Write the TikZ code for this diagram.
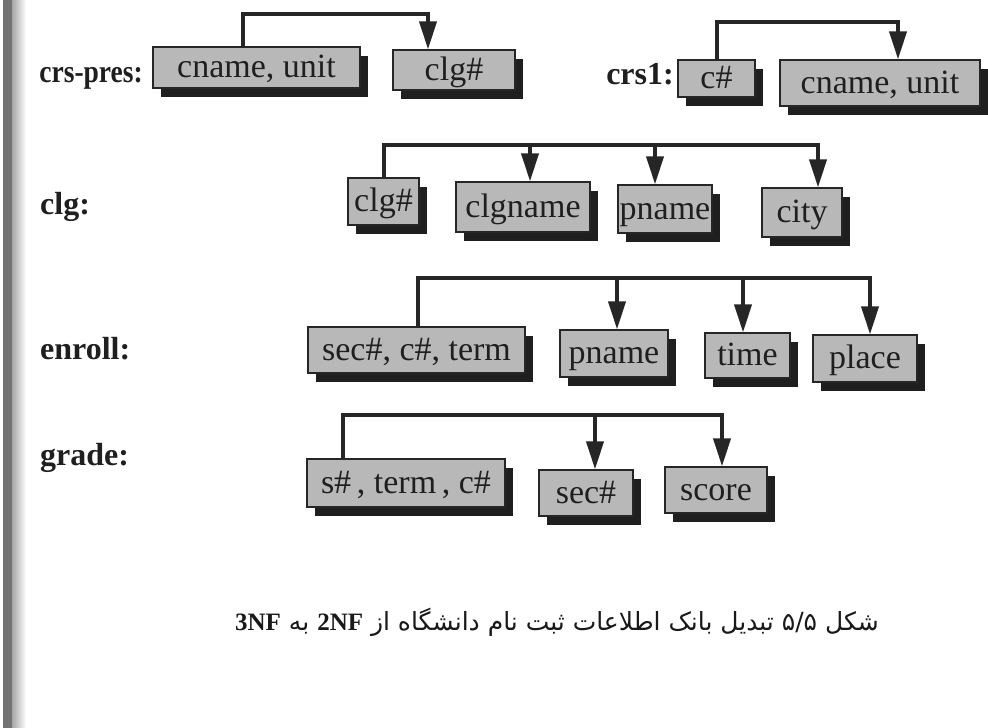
\documentclass[tikz,border=0pt]{standalone}
\usepackage{fontspec}
\usepackage{graphicx}
\setmainfont{Liberation Serif}
\newfontfamily\arabicfont[Script=Arabic]{DejaVu Sans}
\TeXXeTstate=1
\usetikzlibrary{shadows,arrows.meta}
\begin{document}
\begin{tikzpicture}[x=1pt,y=-1pt,
  box/.style={draw=black!85, line width=1.3pt, fill=black!28, inner sep=0pt,
    font=\fontsize{34}{34}\selectfont, text=black!88,
    text height=25pt, text depth=5pt,
    drop shadow={shadow xshift=8pt, shadow yshift=-9pt, fill=black!88, opacity=1, draw=none}},
  lbl/.style={font=\fontsize{32}{32}\selectfont\bfseries, text=black!88, inner sep=0pt},
  bus/.style={draw=black!85, line width=4pt, line join=miter},
  arr/.style={bus, -{Triangle[width=17pt,length=28pt]}},
]
\useasboundingbox (0,0) rectangle (988,728);
\fill[white] (0,0) rectangle (988,728);
% binding strip
\fill[black!55] (3,0) rectangle (12,728);
\shade[left color=black!35, right color=white] (12,0) rectangle (26,728);

% ---- labels
\node[lbl, anchor=base east] (Lcp) at (143,82) {\scalebox{0.86}[1]{crs-pres:}};
\node[lbl, anchor=base east] (Lc1) at (674,84) {crs1:};
\node[lbl, anchor=base west] (Lclg) at (40,214) {clg:};
\node[lbl, anchor=base west] (Len) at (40,359) {enroll:};
\node[lbl, anchor=base west] (Lgr) at (40,465) {grade:};

% ---- row 1
\node[box, minimum width=207pt, minimum height=41pt] (cu1) at (256.5,67.5) {cname, unit};
\node[box, minimum width=122pt, minimum height=40pt] (clgA) at (454,70) {clg\#};
\node[box, minimum width=77pt, minimum height=37pt] (cA) at (716.5,78.5) {c\#};
\node[box, minimum width=200pt, minimum height=46pt] (cu2) at (880,83) {cname, unit};

% ---- row 2
\node[box, minimum width=71pt, minimum height=47pt] (clgB) at (383.5,201.5) {clg\#};
\node[box, minimum width=134pt, minimum height=50pt] (clgn) at (523,207) {clgname};
\node[box, minimum width=94pt, minimum height=48pt] (pn1) at (665,209) {pname};
\node[box, minimum width=80pt, minimum height=49pt] (city) at (802,212.5) {city};

% ---- row 3
\node[box, minimum width=217pt, minimum height=46pt] (sct) at (416.5,350) {sec\#, c\#, term};
\node[box, minimum width=108pt, minimum height=47pt] (pn2) at (614,353.5) {pname};
\node[box, minimum width=85pt, minimum height=45pt] (time) at (747.5,355.5) {time};
\node[box, minimum width=104pt, minimum height=47pt] (place) at (865,358.5) {place};

% ---- row 4
\node[box, minimum width=198pt, minimum height=48pt] (stc) at (406,483) {s\#\,, term\,, c\#};
\node[box, minimum width=94pt, minimum height=46pt] (sec) at (586,493) {sec\#};
\node[box, minimum width=102pt, minimum height=46pt] (score) at (716,490) {score};

% ---- bus coordinates
\coordinate (b1e) at (428,14);
\coordinate (b1r) at (898,22);
\coordinate (b2a) at (530,145);
\coordinate (b2b) at (655,145);
\coordinate (b2e) at (818,145);
\coordinate (b3a) at (617,278);
\coordinate (b3b) at (743,278);
\coordinate (b3e) at (870,278);
\coordinate (b4a) at (595,415);
\coordinate (b4e) at (722,415);

% ---- connectors
\draw[arr] ([xshift=-13.5pt]cu1.north) |- (b1e) -- (b1e |- clgA.north);
\draw[arr] (cA.north) |- (b1r) -- (b1r |- cu2.north);

\draw[arr] (clgB.north) |- (b2e) -- (b2e |- city.north);
\draw[arr] (b2a) -- (b2a |- clgn.north);
\draw[arr] (b2b) -- (b2b |- pn1.north);

\draw[arr] ([xshift=1.5pt]sct.north) |- (b3e) -- (b3e |- place.north);
\draw[arr] (b3a) -- (b3a |- pn2.north);
\draw[arr] (b3b) -- (b3b |- time.north);

\draw[arr] ([xshift=-63pt]stc.north) |- (b4e) -- (b4e |- score.north);
\draw[arr] (b4a) -- (b4a |- sec.north);

% ---- caption
\node[font=\arabicfont\fontsize{25}{25}\selectfont, text=black!90, inner sep=0pt] (cap) at (557,622)
  {\beginR شکل ۵/۵  تبدیل بانک اطلاعات ثبت نام دانشگاه از \beginL{\rmfamily\bfseries 2NF}\endL{} به \beginL{\rmfamily\bfseries 3NF}\endL\endR};
\end{tikzpicture}
\end{document}
